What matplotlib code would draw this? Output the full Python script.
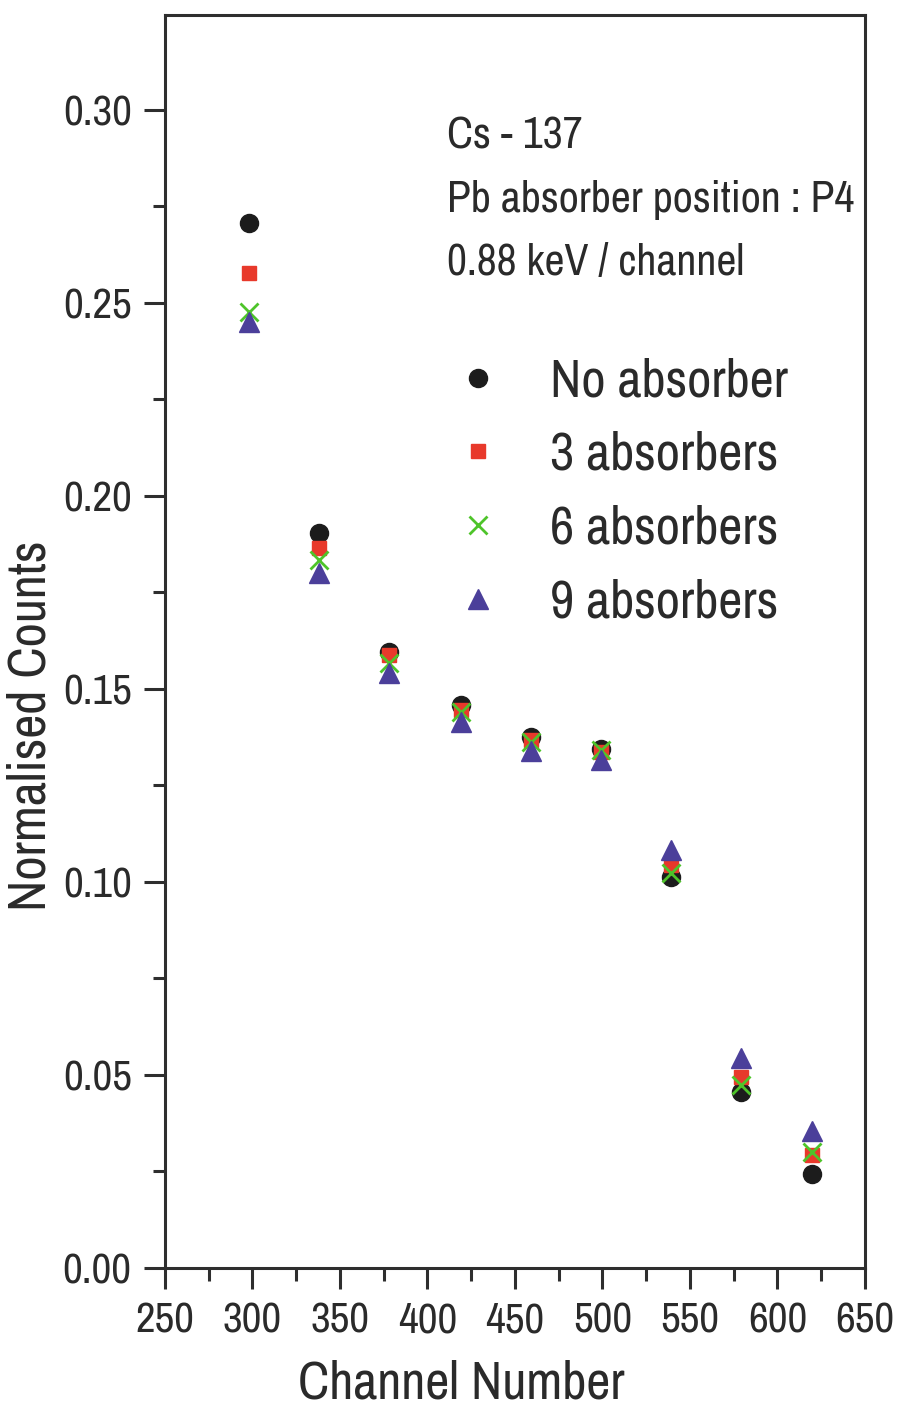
import matplotlib
matplotlib.use("Agg")
import matplotlib.pyplot as plt
from matplotlib import font_manager
from matplotlib.ticker import MultipleLocator, FormatStrFormatter

names = {f.name for f in font_manager.fontManager.ttflist}
FONT = 'Archivo Narrow' if 'Archivo Narrow' in names else 'Liberation Sans'
plt.rcParams['font.family'] = [FONT, 'DejaVu Sans']

channels = [298, 338, 378, 419, 459, 499, 539, 579, 620]
no_absorber = [0.2707, 0.1905, 0.1595, 0.1458, 0.1375, 0.1345, 0.1014, 0.0455, 0.0243]
abs3 = [0.2577, 0.1865, 0.1588, 0.1446, 0.1368, 0.1337, 0.1044, 0.0494, 0.0293]
abs6 = [0.2477, 0.1834, 0.1567, 0.1440, 0.1363, 0.1342, 0.1023, 0.0474, 0.0300]
abs9 = [0.2450, 0.1800, 0.1540, 0.1415, 0.1338, 0.1316, 0.1083, 0.0544, 0.0355]
labels = ['No absorber', '3 absorbers', '6 absorbers', '9 absorbers']
info_lines = ['Cs - 137', 'Pb absorber position : P4', '0.88 keV / channel']

fig = plt.figure(figsize=(9, 14.09), dpi=100)
ax = fig.add_axes([0.1833, 0.1001, 0.7778, 0.8893])

ax.plot(channels, no_absorber, 'o', color='#1c1c1c', ms=13, label=labels[0], zorder=3)
ax.plot(channels, abs3, 's', color='#e8392b', ms=10, label=labels[1], zorder=4)
ax.plot(channels, abs6, 'x', color='#4ec42a', ms=13, mew=2, label=labels[2], zorder=5)
ax.plot(channels, abs9, '^', color='#4b3f9a', ms=15, label=labels[3], zorder=6)

ax.set_xlim(250, 650)
ax.set_ylim(0, 0.3246)
ax.xaxis.set_major_locator(MultipleLocator(50))
ax.xaxis.set_minor_locator(MultipleLocator(25))
ax.yaxis.set_major_locator(MultipleLocator(0.05))
ax.yaxis.set_minor_locator(MultipleLocator(0.025))
ax.yaxis.set_major_formatter(FormatStrFormatter('%.2f'))

axcol = '#2e2e2e'
txtcol = '#2a2a2a'
for s in ax.spines.values():
    s.set_linewidth(2.2)
    s.set_color(axcol)
ax.tick_params(which='major', direction='out', length=15, width=2.2, color=axcol,
               labelsize=31, labelcolor=txtcol, pad=9)
ax.tick_params(which='minor', direction='out', length=9, width=2.2, color=axcol)
ax.tick_params(top=False, right=False, which='both')

ax.set_xlabel('Channel Number', fontsize=38, color=txtcol)
ax.set_ylabel('Normalised Counts', fontsize=38, color=txtcol)
ax.xaxis.set_label_coords(0.424, -0.073)
ax.yaxis.set_label_coords(-0.158, 0.433)

for i, line in enumerate(info_lines):
    ax.text(0.403, 0.903 - i * 0.0505, line, transform=ax.transAxes, fontsize=31.5,
            va='center', color=txtcol)

leg = ax.legend(loc='upper left', bbox_to_anchor=(0.41, 0.727), frameon=False,
                fontsize=38, handlelength=1.0, handletextpad=0.86, labelspacing=0.49,
                numpoints=1, borderaxespad=0, borderpad=0)
for t in leg.get_texts():
    t.set_color(txtcol)

fig.savefig('out.png', dpi=100)
